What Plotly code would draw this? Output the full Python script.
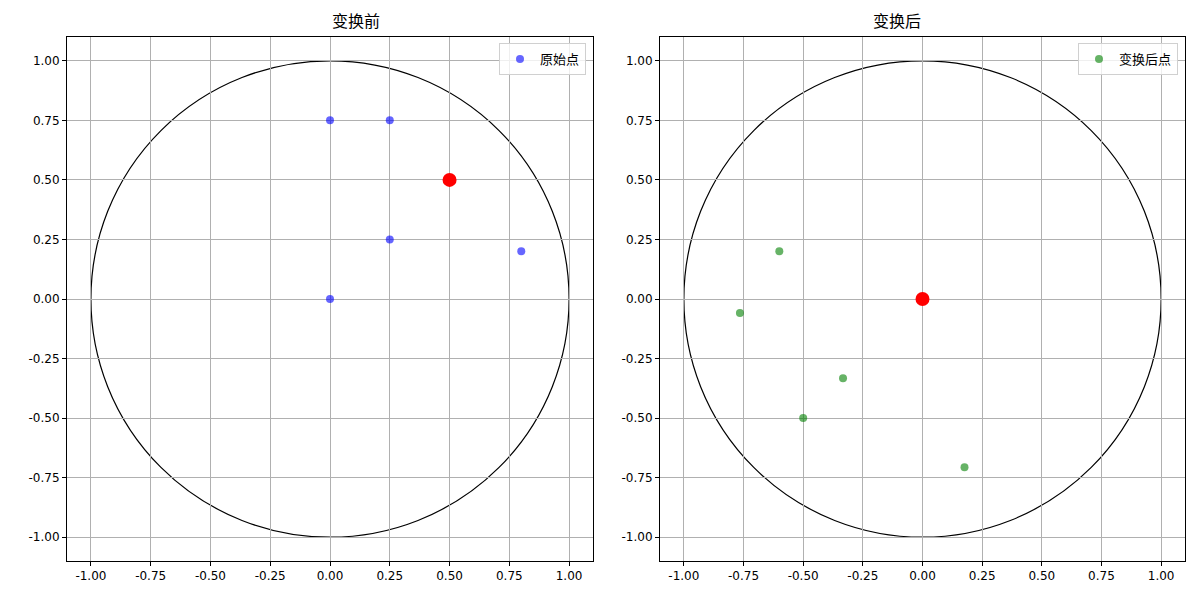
import plotly.graph_objects as go

# Data
left_title = "变换前"
right_title = "变换后"
left_label = "原始点"
right_label = "变换后点"

orig_x = [0.0, 0.25, 0.25, 0.0, 0.8]
orig_y = [0.75, 0.75, 0.25, 0.0, 0.2]
center_left = [0.5, 0.5]

trans_x = [-0.765, -0.6, -0.333, -0.5, 0.176]
trans_y = [-0.059, 0.2, -0.333, -0.5, -0.706]
center_right = [0.0, 0.0]

tick_vals = [-1.0, -0.75, -0.5, -0.25, 0.0, 0.25, 0.5, 0.75, 1.0]
tick_text = ["%.2f" % v for v in tick_vals]

FONT = "DejaVu Sans, Noto Sans CJK SC, sans-serif"

fig = go.Figure()

fig.add_trace(go.Scatter(x=orig_x, y=orig_y, mode="markers", name=left_label,
                         marker=dict(color="rgba(0,0,255,0.6)", size=8,
                                     line=dict(width=0)),
                         xaxis="x", yaxis="y", legend="legend"))
fig.add_trace(go.Scatter(x=[center_left[0]], y=[center_left[1]], mode="markers",
                         showlegend=False,
                         marker=dict(color="red", size=14, line=dict(width=0)),
                         xaxis="x", yaxis="y"))
fig.add_trace(go.Scatter(x=trans_x, y=trans_y, mode="markers", name=right_label,
                         marker=dict(color="rgba(0,128,0,0.6)", size=8,
                                     line=dict(width=0)),
                         xaxis="x2", yaxis="y2", legend="legend2"))
fig.add_trace(go.Scatter(x=[center_right[0]], y=[center_right[1]], mode="markers",
                         showlegend=False,
                         marker=dict(color="red", size=14, line=dict(width=0)),
                         xaxis="x2", yaxis="y2"))

for xr, yr in (("x", "y"), ("x2", "y2")):
    fig.add_shape(type="circle", xref=xr, yref=yr, x0=-1, y0=-1, x1=1, y1=1,
                  line=dict(color="black", width=1.2), layer="below")

ax_common = dict(range=[-1.1, 1.1], tickvals=tick_vals, ticktext=tick_text,
                 showgrid=True, gridcolor="#b0b0b0", gridwidth=1,
                 zeroline=False, showline=True, linecolor="black", linewidth=1,
                 mirror=True, ticks="outside", ticklen=4, tickcolor="black",
                 tickfont=dict(size=12, color="black", family=FONT))

yd = [1 - 561 / 600, 1 - 37 / 600]
fig.update_layout(
    width=1200, height=600,
    margin=dict(l=0, r=0, t=0, b=0),
    paper_bgcolor="white", plot_bgcolor="white",
    font=dict(family=FONT, color="black"),
    xaxis=dict(domain=[67 / 1200, 593 / 1200], anchor="y", **ax_common),
    yaxis=dict(domain=yd, anchor="x", **ax_common),
    xaxis2=dict(domain=[660 / 1200, 1185 / 1200], anchor="y2", **ax_common),
    yaxis2=dict(domain=yd, anchor="x2", **ax_common),
    legend=dict(x=586 / 1200, y=1 - 43 / 600, xanchor="right", yanchor="top",
                bgcolor="rgba(255,255,255,0.8)", bordercolor="#d0d0d0",
                borderwidth=1, font=dict(size=13, family=FONT)),
    legend2=dict(x=1178 / 1200, y=1 - 43 / 600, xanchor="right", yanchor="top",
                 bgcolor="rgba(255,255,255,0.8)", bordercolor="#d0d0d0",
                 borderwidth=1, font=dict(size=13, family=FONT)),
    annotations=[
        dict(text=left_title, x=(67 + 593) / 2 / 1200, y=1 - 22 / 600,
             xref="paper", yref="paper", showarrow=False, yanchor="middle",
             font=dict(size=16, family=FONT)),
        dict(text=right_title, x=(660 + 1185) / 2 / 1200, y=1 - 22 / 600,
             xref="paper", yref="paper", showarrow=False, yanchor="middle",
             font=dict(size=16, family=FONT)),
    ],
)

fig.write_html("out.html", config={"displayModeBar": False},
               post_script="document.body.style.margin='0';document.body.style.padding='0';")
